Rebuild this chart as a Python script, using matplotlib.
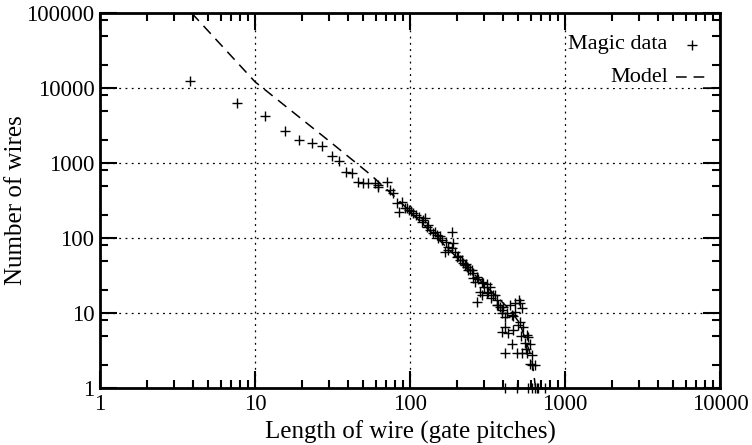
import matplotlib
matplotlib.use("Agg")
import matplotlib.pyplot as plt
from matplotlib.ticker import LogLocator, NullFormatter, FixedFormatter, FixedLocator

plt.rcParams['font.family'] = ['Liberation Serif', 'DejaVu Serif']

# Measured wire lengths (gate pitches) and counts
wire_len = [3.8, 7.6, 11.6, 15.5, 19.2, 23.2, 27.2, 31.2, 34.8, 38.5, 42.4, 46.4,
            50, 53.8, 59.4, 62.2, 62.4, 70.7, 74.3, 77.3, 82, 85.3, 88.3, 92.9,
            98.9, 105, 110, 119, 122, 125, 128, 135, 141, 149, 152, 160, 168, 177,
            186, 190, 188, 200, 210, 216, 221, 226, 232, 238, 244, 256, 256, 262,
            269, 269, 283, 290, 297, 312, 312, 328, 345, 353, 362, 362, 371, 391,
            391, 400, 410, 410, 410, 410, 431, 442, 453, 453, 464, 476, 476, 488,
            488, 508, 513, 513, 525, 526, 538, 566, 566, 580, 580, 594, 594, 610,
            610, 610, 640, 640, 657, 673, 743,
            96, 102, 115, 130, 145, 155, 170, 175, 195, 205, 230, 250, 275, 290,
            300, 320, 335, 380, 395, 420, 460, 500, 520, 550, 560]
wire_cnt = [12500, 6400, 4200, 2650, 2000, 1850, 1700, 1250, 1050, 770, 730, 550,
            540, 540, 540, 510, 483, 565, 437, 402, 290, 224, 305, 249,
            236, 213, 203, 165, 174, 183, 142, 128, 116, 110, 99, 94, 66, 77,
            73, 85, 119, 56, 51, 51, 46, 44, 41, 37, 37, 34, 29, 26,
            30, 14, 19, 17.4, 25, 24, 18.3, 22, 17.4, 17.4, 15, 12.8, 12.8, 9.9,
            5.6, 12, 8.9, 6.6, 2.9, 1, 5.4, 12.8, 9.4, 3.9, 5.9, 13.5, 10.4, 2.9,
            1, 15, 13.5, 7.7, 2.9, 11.6, 6.6, 5.1, 2.9, 4.8, 1, 3.9, 2.1, 2.75,
            2.0, 1, 2.0, 1, 1, 1, 1,
            250, 230, 190, 150, 120, 105, 88, 70, 65, 58, 45, 38, 28, 26,
            22, 19, 16, 12, 11, 10, 9, 7, 5, 4, 3.3]

# Model curve
model_len = [3.9, 10, 30.5, 46.2, 55.2, 84.1, 269, 442, 513, 610, 646]
model_cnt = [100000, 12100, 1920, 955, 708, 321, 30.5, 11, 7.2, 2.5, 1.0]

x_ticks = [1, 10, 100, 1000, 10000]
y_ticks = [1, 10, 100, 1000, 10000, 100000]

fig = plt.figure(figsize=(7.52, 4.45), dpi=100)
ax = fig.add_axes([100/752, 1-388/445, 620/752, 375/445])

ax.plot(wire_len, wire_cnt, linestyle='none', marker='+', color='black',
        markersize=7, markeredgewidth=1.0, clip_on=False, zorder=5)
ax.plot(model_len, model_cnt, color='black', linewidth=1.1, dashes=(7, 4.5))

ax.set_xscale('log')
ax.set_yscale('log')
ax.set_xlim(1, 10000)
ax.set_ylim(1, 100000)

ax.xaxis.set_major_locator(FixedLocator(x_ticks))
ax.xaxis.set_major_formatter(FixedFormatter([str(v) for v in x_ticks]))
ax.xaxis.set_minor_locator(LogLocator(base=10, subs=range(2, 10)))
ax.xaxis.set_minor_formatter(NullFormatter())
ax.yaxis.set_major_locator(FixedLocator(y_ticks))
ax.yaxis.set_major_formatter(FixedFormatter([str(v) for v in y_ticks]))
ax.yaxis.set_minor_locator(LogLocator(base=10, subs=(2, 5, 8)))
ax.yaxis.set_minor_formatter(NullFormatter())

ax.tick_params(which='both', direction='in', top=True, right=True,
               labelsize=16.5, color='black')
ax.tick_params(which='major', length=12, width=1.5, pad=4)
ax.tick_params(which='minor', length=6, width=1.5)
for s in ax.spines.values():
    s.set_linewidth(2)

ax.grid(True, which='major', color='black', linestyle=(0, (1.5, 3.5)),
        linewidth=0.9)

ax.set_xlabel("Length of wire (gate pitches)", fontsize=18, labelpad=4)
ax.set_ylabel("Number of wires", fontsize=18)
ax.yaxis.set_label_coords(-0.118, 0.5)

# gnuplot style key
box = dict(facecolor='white', edgecolor='none', pad=1)
ax.text(0.915, 0.915, "Magic data", ha='right', va='center', fontsize=16,
        transform=ax.transAxes, bbox=box, zorder=6)
ax.text(0.916, 0.829, "Model", ha='right', va='center', fontsize=16,
        transform=ax.transAxes, bbox=box, zorder=6)
ax.plot([0.922, 0.985], [0.829, 0.829], color='white', linewidth=14,
        transform=ax.transAxes, zorder=6, solid_capstyle='butt')
ax.plot([0.955], [0.915], marker='+', color='black', markersize=7,
        markeredgewidth=1.0, transform=ax.transAxes, zorder=7)
ax.plot([0.929, 0.977], [0.829, 0.829], color='black', linewidth=1.1,
        dashes=(7, 4.5), transform=ax.transAxes, zorder=7)

fig.savefig("out.png", dpi=100)
